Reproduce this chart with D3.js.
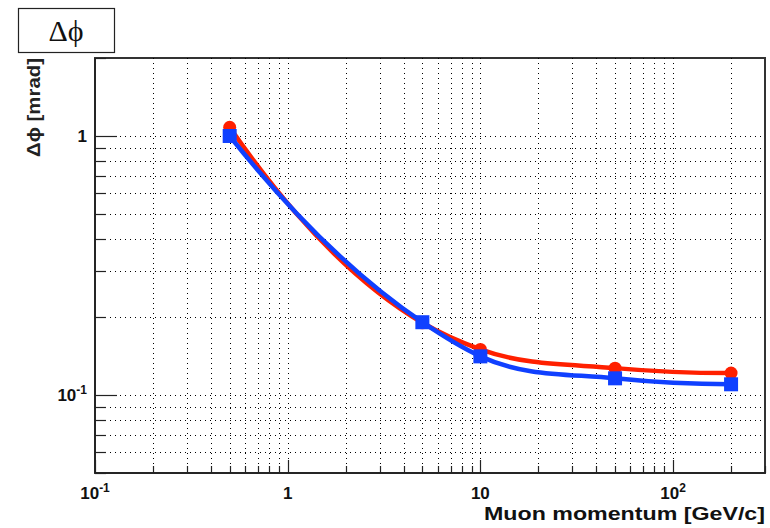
<!DOCTYPE html>
<html>
<head>
<meta charset="utf-8">
<script src="https://cdnjs.cloudflare.com/ajax/libs/d3/7.8.5/d3.min.js"></script>
<style>
  body { margin: 0; background: #fff; }
  text { font-family: "Liberation Sans", Arial, sans-serif; }
</style>
</head>
<body>
<div id="chart"></div>
<script>
// momentum points (GeV/c)
const momentum = [0.5, 5, 10, 50, 200];
// delta phi resolution (mrad)
const redValues = [1.08, 0.19, 0.150, 0.127, 0.1215];
const blueValues = [1.0, 0.191, 0.141, 0.116, 0.110];

const xDomain = [0.1, 300];
const yDomain = [0.05, 2];
const xTickVals = [0.1, 1, 10, 100];
const xTickLabels = [["10", "-1"], ["1", ""], ["10", ""], ["10", "2"]];
const yTickVals = [0.1, 1];
const yTickLabels = [["10", "-1"], ["1", ""]];

const width = 770, height = 528;
const padL = 95, padR = 765, padT = 58, padB = 473;

const svg = d3.select("#chart").append("svg")
  .attr("width", width)
  .attr("height", height);

const x = d3.scaleLog().domain(xDomain).range([padL, padR]);
const y = d3.scaleLog().domain(yDomain).range([padB, padT]);

// smooth curve: cubic hermite, tangents from the parabola through 3 neighbours
function BesselCurve(context) { this._context = context; }
BesselCurve.prototype = {
  areaStart: function () {}, areaEnd: function () {},
  lineStart: function () { this._px = []; this._py = []; },
  point: function (px, py) { this._px.push(+px); this._py.push(+py); },
  lineEnd: function () {
    var X = this._px, Y = this._py, n = X.length, c = this._context;
    if (!n) return;
    c.moveTo(X[0], Y[0]);
    if (n < 3) { for (var k = 1; k < n; k++) c.lineTo(X[k], Y[k]); return; }
    var h = [], s = [], m = [];
    for (var i = 0; i < n - 1; i++) { h.push(X[i + 1] - X[i]); s.push((Y[i + 1] - Y[i]) / h[i]); }
    for (var i = 1; i < n - 1; i++) m[i] = (h[i] * s[i - 1] + h[i - 1] * s[i]) / (h[i - 1] + h[i]);
    m[0] = s[0] + (s[0] - s[1]) * h[0] / (h[0] + h[1]);
    m[n - 1] = s[n - 2] + (s[n - 2] - s[n - 3]) * h[n - 2] / (h[n - 3] + h[n - 2]);
    for (var i = 0; i < n - 1; i++) {
      var d = h[i] / 3;
      c.bezierCurveTo(X[i] + d, Y[i] + m[i] * d, X[i + 1] - d, Y[i + 1] - m[i + 1] * d, X[i + 1], Y[i + 1]);
    }
  }
};
const curveBessel = ctx => new BesselCurve(ctx);

// minor tick positions, 1..9 per decade
function logSteps(dom) {
  var out = [];
  for (var e = Math.floor(Math.log10(dom[0])); e <= Math.ceil(Math.log10(dom[1])); e++) {
    for (var m = 1; m < 10; m++) {
      var v = m * Math.pow(10, e);
      if (v >= dom[0] * 0.999 && v <= dom[1] * 1.001) out.push(v);
    }
  }
  return out;
}
const xMinor = logSteps(xDomain);
const yMinor = logSteps(yDomain);
const isMajor = v => Math.abs(Math.log10(v) - Math.round(Math.log10(v))) < 1e-6;

// frame
svg.append("rect")
  .attr("x", padL).attr("y", padT)
  .attr("width", padR - padL).attr("height", padB - padT)
  .attr("fill", "white")
  .attr("stroke", "#333").attr("stroke-width", 2);

// grid
const grid = svg.append("g")
  .attr("stroke", "#000")
  .attr("stroke-width", 1)
  .attr("stroke-dasharray", "1,4");
grid.selectAll(".gx").data(xMinor.filter(v => v > xDomain[0] && v < xDomain[1]))
  .enter().append("line")
  .attr("x1", d => Math.round(x(d)) + 0.5).attr("x2", d => Math.round(x(d)) + 0.5)
  .attr("y1", padT).attr("y2", padB);
grid.selectAll(".gy").data(yMinor.filter(v => v > yDomain[0] && v < yDomain[1]))
  .enter().append("line")
  .attr("y1", d => Math.round(y(d)) + 0.5).attr("y2", d => Math.round(y(d)) + 0.5)
  .attr("x1", padL).attr("x2", padR);

// axes lines
svg.append("line").attr("x1", padL).attr("x2", padR).attr("y1", padB).attr("y2", padB)
  .attr("stroke", "#222").attr("stroke-width", 1.5);
svg.append("line").attr("x1", padL).attr("x2", padL).attr("y1", padT).attr("y2", padB)
  .attr("stroke", "#222").attr("stroke-width", 1.5);

// ticks
svg.append("g").selectAll("line").data(xMinor).enter().append("line")
  .attr("x1", d => Math.round(x(d)) + 0.5).attr("x2", d => Math.round(x(d)) + 0.5)
  .attr("y1", padB).attr("y2", d => padB - (isMajor(d) ? 13 : 7))
  .attr("stroke", "#222").attr("stroke-width", 1.2);
svg.append("g").selectAll("line").data(yMinor).enter().append("line")
  .attr("y1", d => Math.round(y(d)) + 0.5).attr("y2", d => Math.round(y(d)) + 0.5)
  .attr("x1", padL).attr("x2", d => padL + (isMajor(d) ? 22 : 11))
  .attr("stroke", "#222").attr("stroke-width", 1.2);

// tick labels
function powLabel(sel, lab) {
  sel.append("tspan").text(lab[0]);
  if (lab[1]) sel.append("tspan").attr("dy", -7).attr("font-size", 12).text(lab[1]);
}
xTickVals.forEach(function (v, i) {
  var t = svg.append("text")
    .attr("x", x(v)).attr("y", 499)
    .attr("text-anchor", "middle")
    .attr("font-size", 17).attr("font-weight", "bold").attr("fill", "#111");
  powLabel(t, xTickLabels[i]);
});
yTickVals.forEach(function (v, i) {
  var t = svg.append("text")
    .attr("x", 87).attr("y", y(v) + 6)
    .attr("text-anchor", "end")
    .attr("font-size", 17).attr("font-weight", "bold").attr("fill", "#111");
  powLabel(t, yTickLabels[i]);
});

// axis titles
svg.append("text")
  .attr("x", padR).attr("y", 520)
  .attr("text-anchor", "end")
  .attr("font-size", 18).attr("font-weight", "bold").attr("fill", "#111")
  .attr("textLength", 281).attr("lengthAdjust", "spacingAndGlyphs")
  .text("Muon momentum [GeV/c]");
svg.append("text")
  .attr("transform", "translate(40," + padT + ") rotate(-90)")
  .attr("text-anchor", "end")
  .attr("font-size", 19).attr("font-weight", "bold").attr("fill", "#222")
  .attr("textLength", 99).attr("lengthAdjust", "spacingAndGlyphs")
  .text("Δϕ [mrad]");

// curves
const line = d3.line()
  .x(d => x(d[0])).y(d => y(d[1]))
  .curve(curveBessel);

const series = [
  { vals: redValues, color: "#ff2000", shape: "circle" },
  { vals: blueValues, color: "#1040ff", shape: "square" }
];

series.forEach(function (s) {
  var pts = momentum.map((m, i) => [m, s.vals[i]]);
  svg.append("path")
    .attr("d", line(pts))
    .attr("fill", "none")
    .attr("stroke", s.color)
    .attr("stroke-width", 4.5);
  if (s.shape === "circle") {
    svg.append("g").selectAll("circle").data(pts).enter().append("circle")
      .attr("cx", d => x(d[0])).attr("cy", d => y(d[1]))
      .attr("r", 6.5).attr("fill", s.color);
  } else {
    svg.append("g").selectAll("rect").data(pts).enter().append("rect")
      .attr("x", d => x(d[0]) - 7).attr("y", d => y(d[1]) - 7)
      .attr("width", 14).attr("height", 14).attr("fill", s.color);
  }
});

// title box
svg.append("rect")
  .attr("x", 18.5).attr("y", 8.5).attr("width", 96).attr("height", 44)
  .attr("fill", "white").attr("stroke", "#222").attr("stroke-width", 1.2);
svg.append("text")
  .attr("x", 66).attr("y", 41)
  .attr("text-anchor", "middle")
  .style("font-family", "'Liberation Serif', 'DejaVu Serif', serif")
  .attr("font-size", 30).attr("fill", "#111")
  .text("Δϕ");
</script>
</body>
</html>
